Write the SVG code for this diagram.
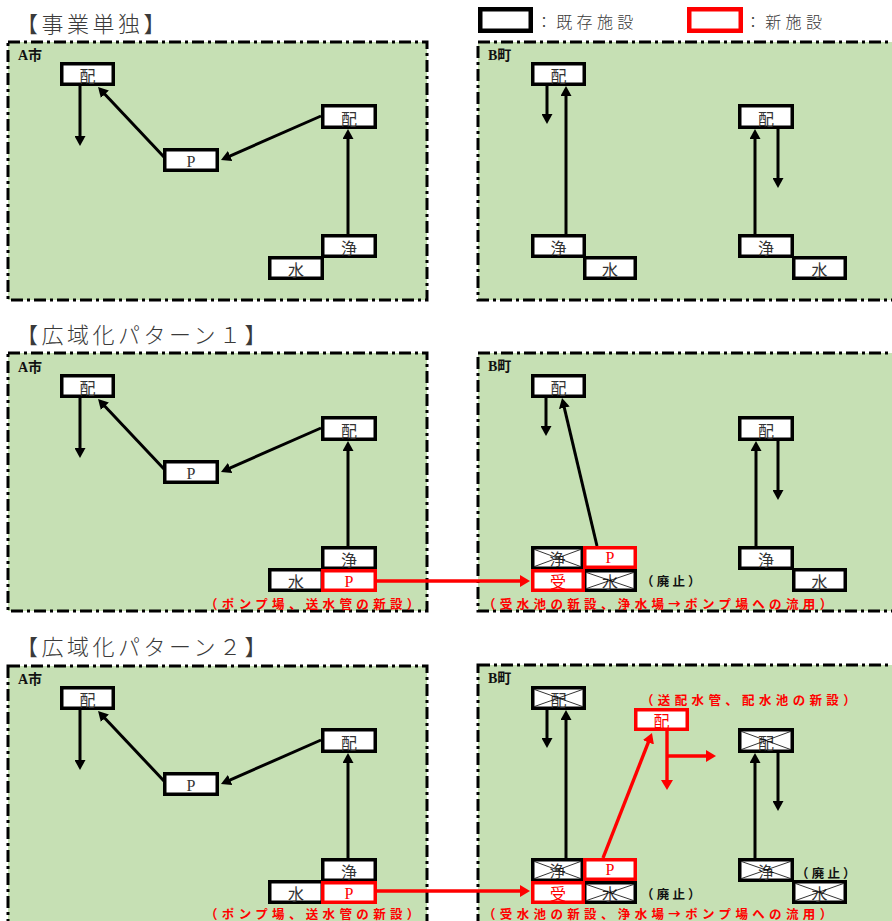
<svg xmlns="http://www.w3.org/2000/svg" width="892" height="921" viewBox="0 0 892 921">
  <defs>
    <style>
      .panel { fill: #c6e0b4; stroke: #000; stroke-width: 3; stroke-dasharray: 12 4 3 4; }
      .box { fill: #fff; stroke: #000; stroke-width: 3.5; }
      .rbox { fill: #fff; stroke: #f00; stroke-width: 3.5; }
      .x { stroke: #000; stroke-width: 0.8; fill: none; }
      .lbl { font-family: "Noto Sans CJK JP", sans-serif; font-size: 16px; fill: #333; text-anchor: middle; dominant-baseline: central; }
      .red { fill: #f00; }
      .p { font-family: "Liberation Serif", serif; }
      .ln { stroke: #000; stroke-width: 3; fill: none; }
      .rln { stroke: #f00; stroke-width: 3.4; fill: none; }
      .title { font-family: "Noto Sans CJK JP", sans-serif; font-weight: 300; font-size: 22px; letter-spacing: 3.5px; fill: #3a3a3a; dominant-baseline: central; }
      .leg { font-family: "Noto Sans CJK JP", sans-serif; font-weight: 300; font-size: 16px; letter-spacing: 4.3px; fill: #3a3a3a; dominant-baseline: central; }
      .area { font-family: "Liberation Serif", "Noto Sans CJK JP", serif; font-weight: 700; font-size: 14px; fill: #111; dominant-baseline: central; }
      .cap { font-family: "Noto Sans CJK JP", sans-serif; font-weight: 700; font-size: 12.5px; letter-spacing: 4.35px; fill: #f00; dominant-baseline: central; }
      .note { font-family: "Noto Sans CJK JP", sans-serif; font-weight: 700; font-size: 12.5px; letter-spacing: 3.2px; fill: #111; dominant-baseline: central; }
    </style>
    <marker id="ah" viewBox="0 0 10 11" refX="1" refY="5.5" markerWidth="10" markerHeight="11" markerUnits="userSpaceOnUse" orient="auto">
      <path d="M0,0L10,5.5L0,11z" fill="#000"/>
    </marker>
    <marker id="ahr" viewBox="0 0 10 12" refX="1" refY="6" markerWidth="10" markerHeight="12" markerUnits="userSpaceOnUse" orient="auto">
      <path d="M0,0L10,6L0,12z" fill="#f00"/>
    </marker>
  </defs>

  <rect width="892" height="921" fill="#fff"/>

  <!-- legend -->
  <g id="legend">
    <rect x="480.25" y="9.25" width="50.5" height="21.5" fill="#fff" stroke="#000" stroke-width="4.5"/>
    <text x="536" y="21" class="leg">：既存施設</text>
    <rect x="689.25" y="9.25" width="51.5" height="21.5" fill="#fff" stroke="#f00" stroke-width="4.5"/>
    <text x="745" y="21" class="leg">：新施設</text>
  </g>

  <!-- section titles -->
  <text x="16" y="22" class="title">【事業単独】</text>
  <text x="16" y="333" class="title">【広域化パターン１】</text>
  <text x="16" y="645" class="title">【広域化パターン２】</text>

  <!-- ===== A city, three variants ===== -->
  <g id="a-city-1">
    <rect class="panel" x="8" y="42" width="419" height="258"/>
    <text class="area" x="18" y="55">A市</text>
    <g id="a1-conn">
      <line class="ln" x1="80" y1="86" x2="80" y2="137" marker-end="url(#ah)"/>
      <line class="ln" x1="164" y1="157" x2="104.2" y2="93.5" marker-end="url(#ah)"/>
      <line class="ln" x1="321" y1="116" x2="229.2" y2="156.4" marker-end="url(#ah)"/>
      <line class="ln" x1="348" y1="234" x2="348" y2="138" marker-end="url(#ah)"/>
    </g>
    <g id="a1-dist1"><rect class="box" x="61.75" y="63.75" width="51.5" height="20.5"/><text class="lbl" x="87.5" y="75">配</text></g>
    <g id="a1-pump"><rect class="box" x="164.75" y="149.75" width="52.5" height="20.5"/><text class="lbl p" x="191" y="161">P</text></g>
    <g id="a1-dist2"><rect class="box" x="322.75" y="105.75" width="52.5" height="21.5"/><text class="lbl" x="349" y="117.5">配</text></g>
    <g id="a1-source"><rect class="box" x="269.75" y="257.75" width="52.5" height="20.5"/><text class="lbl" x="296" y="269">水</text></g>
    <g id="a1-plant"><rect class="box" x="322.75" y="235.75" width="52.5" height="20.5"/><text class="lbl" x="349" y="247">浄</text></g>
  </g>

  <g id="a-city-2" transform="translate(0,312)">
    <rect class="panel" x="8" y="41" width="419" height="258"/>
    <text class="area" x="18" y="55">A市</text>
    <g id="a2-conn">
      <line class="ln" x1="80" y1="86" x2="80" y2="137" marker-end="url(#ah)"/>
      <line class="ln" x1="164" y1="157" x2="104.2" y2="93.5" marker-end="url(#ah)"/>
      <line class="ln" x1="321" y1="116" x2="229.2" y2="156.4" marker-end="url(#ah)"/>
      <line class="ln" x1="348" y1="234" x2="348" y2="138" marker-end="url(#ah)"/>
    </g>
    <g id="a2-dist1"><rect class="box" x="61.75" y="63.75" width="51.5" height="20.5"/><text class="lbl" x="87.5" y="75">配</text></g>
    <g id="a2-pump"><rect class="box" x="164.75" y="149.75" width="52.5" height="20.5"/><text class="lbl p" x="191" y="161">P</text></g>
    <g id="a2-dist2"><rect class="box" x="322.75" y="105.75" width="52.5" height="21.5"/><text class="lbl" x="349" y="117.5">配</text></g>
    <g id="a2-source"><rect class="box" x="269.75" y="257.75" width="52.5" height="20.5"/><text class="lbl" x="296" y="269">水</text></g>
    <g id="a2-plant"><rect class="box" x="322.75" y="235.75" width="52.5" height="20.5"/><text class="lbl" x="349" y="247">浄</text></g>
    <g id="a2-newpump"><rect class="rbox" x="322.75" y="258.75" width="52.5" height="19.5"/><text class="lbl p red" x="349" y="269.5">P</text></g>
    <text class="cap" x="205" y="291">（ポンプ場、送水管の新設）</text>
  </g>

  <g id="a-city-3" transform="translate(0,624)">
    <rect class="panel" x="8" y="42" width="419" height="300"/>
    <text class="area" x="18" y="55">A市</text>
    <g id="a3-conn">
      <line class="ln" x1="80" y1="86" x2="80" y2="137" marker-end="url(#ah)"/>
      <line class="ln" x1="164" y1="157" x2="104.2" y2="93.5" marker-end="url(#ah)"/>
      <line class="ln" x1="321" y1="116" x2="229.2" y2="156.4" marker-end="url(#ah)"/>
      <line class="ln" x1="348" y1="234" x2="348" y2="138" marker-end="url(#ah)"/>
    </g>
    <g id="a3-dist1"><rect class="box" x="61.75" y="63.75" width="51.5" height="20.5"/><text class="lbl" x="87.5" y="75">配</text></g>
    <g id="a3-pump"><rect class="box" x="164.75" y="149.75" width="52.5" height="20.5"/><text class="lbl p" x="191" y="161">P</text></g>
    <g id="a3-dist2"><rect class="box" x="322.75" y="105.75" width="52.5" height="21.5"/><text class="lbl" x="349" y="117.5">配</text></g>
    <g id="a3-source"><rect class="box" x="269.75" y="257.75" width="52.5" height="20.5"/><text class="lbl" x="296" y="269">水</text></g>
    <g id="a3-plant"><rect class="box" x="322.75" y="235.75" width="52.5" height="20.5"/><text class="lbl" x="349" y="247">浄</text></g>
    <g id="a3-newpump"><rect class="rbox" x="322.75" y="258.75" width="52.5" height="19.5"/><text class="lbl p red" x="349" y="269.5">P</text></g>
    <text class="cap" x="205" y="289">（ポンプ場、送水管の新設）</text>
  </g>

  <!-- ===== B town, stand-alone ===== -->
  <g id="b-town-1">
    <rect class="panel" x="478" y="42" width="440" height="258"/>
    <text class="area" x="488" y="55">B町</text>
    <g id="b1-conn">
      <line class="ln" x1="547" y1="86" x2="547" y2="115" marker-end="url(#ah)"/>
      <line class="ln" x1="566" y1="234" x2="566" y2="95" marker-end="url(#ah)"/>
      <line class="ln" x1="755" y1="234" x2="755" y2="138" marker-end="url(#ah)"/>
      <line class="ln" x1="778" y1="129" x2="778" y2="179" marker-end="url(#ah)"/>
    </g>
    <g id="b1-dist1"><rect class="box" x="532.75" y="63.75" width="51.5" height="20.5"/><text class="lbl" x="558.5" y="75">配</text></g>
    <g id="b1-source1"><rect class="box" x="584.75" y="257.75" width="50.5" height="20.5"/><text class="lbl" x="610" y="269">水</text></g>
    <g id="b1-plant1"><rect class="box" x="532.75" y="235.75" width="51.5" height="20.5"/><text class="lbl" x="558.5" y="247">浄</text></g>
    <g id="b1-dist2"><rect class="box" x="739.75" y="105.75" width="52.5" height="21.5"/><text class="lbl" x="766" y="117.5">配</text></g>
    <g id="b1-source2"><rect class="box" x="793.75" y="257.75" width="51.5" height="20.5"/><text class="lbl" x="819.5" y="269">水</text></g>
    <g id="b1-plant2"><rect class="box" x="739.75" y="235.75" width="52.5" height="20.5"/><text class="lbl" x="766" y="247">浄</text></g>
  </g>

  <!-- ===== B town, pattern 1 ===== -->
  <g id="b-town-2">
    <rect class="panel" x="478" y="353" width="440" height="258"/>
    <text class="area" x="488" y="366">B町</text>
    <g id="b2-conn">
      <line class="ln" x1="546" y1="398" x2="546" y2="427" marker-end="url(#ah)"/>
      <line class="ln" x1="597" y1="546" x2="564.1" y2="406.8" marker-end="url(#ah)"/>
      <line class="ln" x1="756" y1="546" x2="756" y2="450" marker-end="url(#ah)"/>
      <line class="ln" x1="778" y1="441" x2="778" y2="491" marker-end="url(#ah)"/>
    </g>
    <g id="b2-dist1"><rect class="box" x="532.75" y="375.75" width="51.5" height="20.5"/><text class="lbl" x="558.5" y="387">配</text></g>
    <g id="b2-plant1"><rect class="box" x="532.75" y="547.75" width="49.5" height="20.5"/>
      <text class="lbl" x="557.5" y="558">浄</text>
      <path class="x" d="M534.5,549.5L580.5,566.5M534.5,566.5L580.5,549.5"/></g>
    <g id="b2-source1"><rect class="box" x="584.75" y="570.75" width="50.5" height="19.5"/>
      <text class="lbl" x="610" y="580.5">水</text>
      <path class="x" d="M586.5,572.5L633.5,588.5M586.5,588.5L633.5,572.5"/></g>
    <g id="b2-newpump"><rect class="rbox" x="584.75" y="547.75" width="50.5" height="19.5"/><text class="lbl p red" x="610" y="557.5">P</text></g>
    <g id="b2-tank"><rect class="rbox" x="532.75" y="570.75" width="50.5" height="19.5"/><text class="lbl red" x="558" y="580.5">受</text></g>
    <text class="note" x="641" y="580">（廃止）</text>
    <g id="b2-dist2"><rect class="box" x="739.75" y="417.75" width="52.5" height="21.5"/><text class="lbl" x="766" y="429.5">配</text></g>
    <g id="b2-source2"><rect class="box" x="793.75" y="569.75" width="51.5" height="20.5"/><text class="lbl" x="819.5" y="581">水</text></g>
    <g id="b2-plant2"><rect class="box" x="739.75" y="547.75" width="52.5" height="20.5"/><text class="lbl" x="766" y="559">浄</text></g>
    <text class="cap" x="483" y="603">（受水池の新設、浄水場→ポンプ場への流用）</text>
  </g>

  <!-- ===== B town, pattern 2 ===== -->
  <g id="b-town-3">
    <rect class="panel" x="478" y="665" width="440" height="300"/>
    <text class="area" x="488" y="678">B町</text>
    <g id="b3-conn">
      <line class="ln" x1="547" y1="710" x2="547" y2="739" marker-end="url(#ah)"/>
      <line class="ln" x1="566" y1="858" x2="566" y2="719" marker-end="url(#ah)"/>
      <line class="ln" x1="755" y1="858" x2="755" y2="762" marker-end="url(#ah)"/>
      <line class="ln" x1="778" y1="753" x2="778" y2="802" marker-end="url(#ah)"/>
      <line class="rln" x1="603" y1="858" x2="648.7" y2="741.4" marker-end="url(#ahr)"/>
      <line class="rln" x1="667" y1="731" x2="667" y2="781" marker-end="url(#ahr)"/>
      <line class="rln" x1="667" y1="756" x2="707" y2="756" marker-end="url(#ahr)"/>
    </g>
    <g id="b3-dist1"><rect class="box" x="532.75" y="687.75" width="51.5" height="20.5"/>
      <text class="lbl" x="558.5" y="699">配</text>
      <path class="x" d="M534.5,689.5L582.5,706.5M534.5,706.5L582.5,689.5"/></g>
    <g id="b3-plant1"><rect class="box" x="532.75" y="859.75" width="49.5" height="20.5"/>
      <text class="lbl" x="557.5" y="870">浄</text>
      <path class="x" d="M534.5,861.5L580.5,878.5M534.5,878.5L580.5,861.5"/></g>
    <g id="b3-source1"><rect class="box" x="584.75" y="882.75" width="50.5" height="19.5"/>
      <text class="lbl" x="610" y="892.5">水</text>
      <path class="x" d="M586.5,884.5L633.5,900.5M586.5,900.5L633.5,884.5"/></g>
    <g id="b3-newpump"><rect class="rbox" x="584.75" y="859.75" width="50.5" height="19.5"/><text class="lbl p red" x="610" y="869.5">P</text></g>
    <g id="b3-tank"><rect class="rbox" x="532.75" y="882.75" width="50.5" height="19.5"/><text class="lbl red" x="558" y="892.5">受</text></g>
    <text class="note" x="641" y="893">（廃止）</text>
    <g id="b3-newdist"><rect class="rbox" x="635.75" y="709.75" width="51.5" height="19.5"/><text class="lbl red" x="661.5" y="720">配</text></g>
    <text class="cap" x="641" y="699">（送配水管、配水池の新設）</text>
    <g id="b3-dist2"><rect class="box" x="739.75" y="729.75" width="52.5" height="21.5"/>
      <text class="lbl" x="766" y="741.5">配</text>
      <path class="x" d="M741.5,731.5L790.5,749.5M741.5,749.5L790.5,731.5"/></g>
    <g id="b3-source2"><rect class="box" x="793.75" y="881.75" width="51.5" height="20.5"/>
      <text class="lbl" x="819.5" y="893">水</text>
      <path class="x" d="M795.5,883.5L843.5,900.5M795.5,900.5L843.5,883.5"/></g>
    <g id="b3-plant2"><rect class="box" x="739.75" y="859.75" width="52.5" height="20.5"/>
      <text class="lbl" x="766" y="871">浄</text>
      <path class="x" d="M741.5,861.5L790.5,878.5M741.5,878.5L790.5,861.5"/></g>
    <text class="note" x="796" y="872">（廃止）</text>
    <text class="cap" x="483" y="913">（受水池の新設、浄水場→ポンプ場への流用）</text>
  </g>

  <!-- transmission mains between the two areas -->
  <g id="transfer-conn">
    <line class="rln" x1="377" y1="581" x2="521" y2="581" stroke-width="3" marker-end="url(#ahr)"/>
    <line class="rln" x1="377" y1="891" x2="521" y2="891" stroke-width="3" marker-end="url(#ahr)"/>
  </g>
</svg>
